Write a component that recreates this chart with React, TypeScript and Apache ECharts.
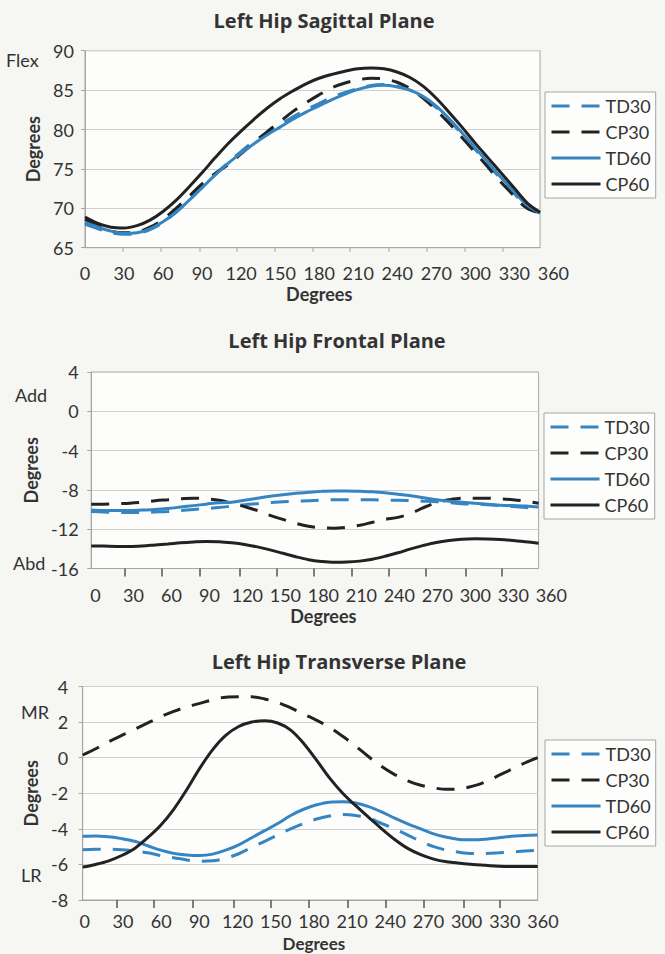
import React, { useEffect, useRef } from "react";
import * as echarts from "echarts";

const ANGLES = [0, 10, 20, 30, 40, 50, 60, 70, 80, 90, 100, 110, 120, 130, 140, 150, 160, 170, 180, 190, 200, 210, 220, 230, 240, 250, 260, 270, 280, 290, 300, 310, 320, 330, 340, 350];
const SERIES_NAMES = ["TD30", "CP30", "TD60", "CP60"];

// Left Hip Sagittal Plane
const SAG_TD30 = [68.0, 67.4, 66.9, 66.7, 66.8, 67.3, 68.2, 69.5, 71.0, 72.7, 74.3, 75.8, 77.2, 78.5, 79.6, 80.6, 81.6, 82.5, 83.3, 84.1, 84.7, 85.2, 85.6, 85.7, 85.5, 85.0, 84.1, 82.8, 81.2, 79.4, 77.5, 75.6, 73.7, 71.9, 70.2, 69.4];
const SAG_CP30 = [68.6, 67.8, 67.1, 66.9, 67.0, 67.6, 68.6, 70.0, 71.5, 73.1, 74.4, 75.5, 76.9, 78.3, 79.7, 81.0, 82.3, 83.4, 84.4, 85.3, 85.9, 86.3, 86.5, 86.4, 86.0, 85.2, 84.0, 82.5, 80.8, 79.0, 77.1, 75.2, 73.3, 71.6, 70.0, 69.4];
const SAG_TD60 = [68.2, 67.6, 67.1, 66.8, 66.9, 67.4, 68.3, 69.5, 71.0, 72.6, 74.2, 75.7, 77.0, 78.2, 79.3, 80.3, 81.3, 82.2, 83.0, 83.8, 84.5, 85.1, 85.5, 85.6, 85.4, 85.0, 84.2, 83.0, 81.4, 79.6, 77.7, 75.8, 73.9, 72.1, 70.4, 69.4];
const SAG_CP60 = [68.9, 68.1, 67.6, 67.5, 67.8, 68.5, 69.6, 71.0, 72.7, 74.5, 76.4, 78.2, 79.8, 81.3, 82.7, 83.9, 84.9, 85.8, 86.5, 87.0, 87.4, 87.7, 87.8, 87.7, 87.3, 86.6, 85.5, 84.0, 82.2, 80.3, 78.3, 76.4, 74.5, 72.6, 70.7, 69.5];

// Left Hip Frontal Plane
const FRO_TD30 = [-10.2, -10.25, -10.3, -10.3, -10.3, -10.25, -10.2, -10.1, -10.0, -9.9, -9.8, -9.65, -9.5, -9.4, -9.3, -9.2, -9.15, -9.1, -9.05, -9.0, -9.0, -9.0, -9.0, -9.05, -9.05, -9.1, -9.15, -9.2, -9.3, -9.4, -9.45, -9.5, -9.6, -9.7, -9.8, -9.9];
const FRO_CP30 = [-9.45, -9.45, -9.4, -9.35, -9.25, -9.1, -9.0, -8.9, -8.85, -8.9, -9.05, -9.35, -9.7, -10.1, -10.6, -11.0, -11.4, -11.7, -11.85, -11.9, -11.8, -11.6, -11.3, -11.0, -10.8, -10.4, -9.8, -9.3, -9.0, -8.85, -8.85, -8.85, -8.9, -9.0, -9.15, -9.35];
const FRO_TD60 = [-10.05, -10.1, -10.1, -10.1, -10.05, -10.0, -9.9, -9.75, -9.6, -9.45, -9.3, -9.25, -9.05, -8.85, -8.65, -8.5, -8.35, -8.25, -8.15, -8.1, -8.1, -8.15, -8.2, -8.3, -8.45, -8.6, -8.8, -9.0, -9.15, -9.25, -9.35, -9.45, -9.55, -9.6, -9.65, -9.75];
const FRO_CP60 = [-13.7, -13.72, -13.75, -13.75, -13.7, -13.6, -13.5, -13.38, -13.3, -13.25, -13.27, -13.38, -13.55, -13.8, -14.1, -14.45, -14.8, -15.1, -15.28, -15.37, -15.35, -15.25, -15.05, -14.75, -14.4, -14.0, -13.65, -13.35, -13.15, -13.02, -12.98, -13.0, -13.05, -13.15, -13.28, -13.42];

// Left Hip Transverse Plane
const TRA_TD30 = [-5.18, -5.15, -5.15, -5.18, -5.25, -5.35, -5.5, -5.62, -5.75, -5.82, -5.8, -5.65, -5.4, -5.05, -4.7, -4.35, -4.0, -3.7, -3.45, -3.28, -3.2, -3.25, -3.4, -3.7, -4.0, -4.35, -4.7, -5.0, -5.2, -5.32, -5.38, -5.38, -5.35, -5.3, -5.25, -5.2];
const TRA_CP30 = [0.15, 0.5, 0.9, 1.25, 1.6, 1.95, 2.3, 2.6, 2.85, 3.05, 3.25, 3.4, 3.42, 3.42, 3.3, 3.1, 2.8, 2.45, 2.1, 1.7, 1.2, 0.65, 0.05, -0.5, -0.95, -1.3, -1.55, -1.7, -1.78, -1.75, -1.6, -1.35, -1.0, -0.65, -0.3, 0.0];
const TRA_TD60 = [-4.42, -4.4, -4.45, -4.55, -4.7, -4.95, -5.2, -5.38, -5.47, -5.5, -5.42, -5.2, -4.9, -4.5, -4.1, -3.7, -3.25, -2.9, -2.65, -2.5, -2.48, -2.55, -2.75, -3.05, -3.4, -3.72, -4.0, -4.28, -4.47, -4.6, -4.62, -4.58, -4.5, -4.42, -4.38, -4.34];
const TRA_CP60 = [-6.15, -6.0, -5.8, -5.5, -5.1, -4.5, -3.8, -2.9, -1.8, -0.6, 0.45, 1.25, 1.75, 2.0, 2.08, 1.95, 1.55, 0.8, -0.15, -1.15, -2.0, -2.7, -3.35, -4.0, -4.6, -5.1, -5.45, -5.7, -5.85, -5.93, -6.0, -6.05, -6.1, -6.12, -6.12, -6.12];

const TITLES = ["Left Hip Sagittal Plane", "Left Hip Frontal Plane", "Left Hip Transverse Plane"];
const X_LABEL_MAX = 360;
const X_LABEL_STEP = 30;
const X_DATA_MAX = 350;
const TICKS_P1 = [29, 58, 88, 117, 146, 175, 204, 234, 263, 292, 321];
const TICKS_P23 = [26, 55, 85, 116, 145, 174, 204, 233, 262, 293, 321];
const Y_RANGES = [
  { min: 65, max: 90, interval: 5 },
  { min: -16, max: 4, interval: 4 },
  { min: -8, max: 4, interval: 2 },
];
const ANNOTATIONS = [
  ["Flex"],
  ["Add", "Abd"],
  ["MR", "LR"],
];

const FONT = 'Lato, "Open Sans", "Noto Sans", sans-serif';
const TITLE_FONT = '"Open Sans", Lato, sans-serif';
const BLUE = "#3585c2";
const BLACK = "#222222";
const DASH = [18, 12];

export default function App() {
  const ref = useRef<HTMLDivElement>(null);

  useEffect(() => {
    if (!ref.current) return;
    const chart = echarts.init(ref.current, null, { renderer: "svg" });

    const layout = [
      { left: 85, top: 50.7, width: 455, height: 197, labLeft: 85, labWidth: 468.4, yMargin: 11, xMargin: 16, xNameGap: 37, xNameSize: 18, yNameGap: 39, ticks: TICKS_P1, tickLen: 4, tickColor: "#bbbbbb", titleX: 324, titleY: 10, legendTop: 92, legendLeft: 545 },
      { left: 91.2, top: 372, width: 447.4, height: 196.5, labLeft: 95.4, labWidth: 455.9, yMargin: 12.5, xMargin: 17, xNameGap: 38, xNameSize: 18, yNameGap: 41, ticks: TICKS_P23, tickLen: 8, tickColor: "#555555", titleX: 337, titleY: 330, legendTop: 413, legendLeft: 544 },
      { left: 82.7, top: 686.5, width: 455, height: 213.5, labLeft: 84.8, labWidth: 458.2, yMargin: 14.5, xMargin: 12, xNameGap: 35, xNameSize: 17, yNameGap: 37, ticks: TICKS_P23, tickLen: 8, tickColor: "#555555", titleX: 339, titleY: 651, legendTop: 740, legendLeft: 545 },
    ];
    const annPos = [
      [{ x: 6, y: 60 }],
      [{ x: 15, y: 395 }, { x: 13, y: 563 }],
      [{ x: 21, y: 712 }, { x: 21, y: 875 }],
    ];
    const dataSets = [
      [SAG_TD30, SAG_CP30, SAG_TD60, SAG_CP60],
      [FRO_TD30, FRO_CP30, FRO_TD60, FRO_CP60],
      [TRA_TD30, TRA_CP30, TRA_TD60, TRA_CP60],
    ];
    const styles = [
      { color: BLUE, dashed: true },
      { color: BLACK, dashed: true },
      { color: BLUE, dashed: false },
      { color: BLACK, dashed: false },
    ];

    const grid: any[] = [];
    const xAxis: any[] = [];
    const yAxis: any[] = [];
    const series: any[] = [];
    const legend: any[] = [];
    const title: any[] = [];
    const graphic: any[] = [];

    layout.forEach((L, p) => {
      grid.push({
        left: L.left, top: L.top, width: L.width, height: L.height,
        show: true, borderColor: "#a6a6a6", borderWidth: 1, backgroundColor: "#fdfdfc",
        containLabel: false, outerBoundsMode: "none",
      });
      grid.push({
        left: L.labLeft, top: L.top, width: L.labWidth, height: L.height,
        show: false, containLabel: false, outerBoundsMode: "none",
      });
      xAxis.push({
        gridIndex: 2 * p, type: "value", min: 0, max: X_DATA_MAX,
        axisLine: { show: true, onZero: false, lineStyle: { color: "#a6a6a6", width: 1 } },
        axisTick: { show: true, customValues: L.ticks, length: L.tickLen, lineStyle: { color: L.tickColor, width: 1.5 } },
        axisLabel: { show: false },
        splitLine: { show: false },
      });
      xAxis.push({
        gridIndex: 2 * p + 1, type: "value", min: 0, max: X_LABEL_MAX, interval: X_LABEL_STEP,
        axisLine: { show: false, onZero: false }, axisTick: { show: false }, splitLine: { show: false },
        axisLabel: { show: true, fontSize: 18, lineHeight: 18, fontFamily: FONT, color: "#333", margin: L.xMargin, showMinLabel: true, showMaxLabel: true },
        name: "Degrees", nameLocation: "middle", nameGap: L.xNameGap,
        nameTextStyle: { fontSize: L.xNameSize, lineHeight: L.xNameSize, fontWeight: "bold", fontFamily: FONT, color: "#333" },
      });
      const yr = Y_RANGES[p];
      yAxis.push({
        gridIndex: 2 * p, type: "value", min: yr.min, max: yr.max, interval: yr.interval,
        axisLine: { show: true, onZero: false, lineStyle: { color: "#a6a6a6" } },
        axisTick: { show: true, length: 4, lineStyle: { color: "#a6a6a6" } },
        axisLabel: { fontSize: 18, fontFamily: FONT, color: "#333", margin: L.yMargin },
        splitLine: { show: true, lineStyle: { color: "#cfcfcf", width: 1 } },
        name: "Degrees", nameLocation: "middle", nameGap: L.yNameGap, nameRotate: 90,
        nameTextStyle: { fontSize: 18, fontWeight: "bold", fontFamily: FONT, color: "#333" },
      });
      yAxis.push({ gridIndex: 2 * p + 1, type: "value", min: 0, max: 1, show: false });

      dataSets[p].forEach((vals, k) => {
        const st = styles[k];
        series.push({
          type: "line", name: SERIES_NAMES[k],
          xAxisIndex: 2 * p, yAxisIndex: 2 * p,
          data: ANGLES.map((a, i) => [a, vals[i]]),
          showSymbol: false, symbol: "none", smooth: 0.35,
          lineStyle: { width: 3, color: st.color, type: st.dashed ? DASH : "solid" },
          itemStyle: { color: st.color },
          z: 3 + k,
        });
      });

      legend.push({
        orient: "vertical", left: L.legendLeft, top: L.legendTop,
        data: SERIES_NAMES, selectedMode: false,
        itemWidth: 49, itemHeight: 14, itemGap: 8, padding: [5, 5, 5, 5],
        borderColor: "#a6a6a6", borderWidth: 1, backgroundColor: "#fdfdfc", borderRadius: 0,
        itemStyle: { color: "transparent", borderWidth: 0, opacity: 0 },
        lineStyle: { width: 3 },
        textStyle: { fontSize: 18, fontFamily: FONT, color: "#333", lineHeight: 18 },
      });

      title.push({
        text: TITLES[p], left: L.titleX, top: L.titleY, textAlign: "center", padding: 0,
        textStyle: { fontSize: 20, fontWeight: "bold", fontFamily: TITLE_FONT, color: "#333" },
      });

      ANNOTATIONS[p].forEach((txt, j) => {
        const pos = annPos[p][j];
        graphic.push({
          type: "text", x: pos.x, y: pos.y,
          style: { text: txt, fontSize: 18, fontFamily: FONT, fill: "#333", textAlign: "left", textVerticalAlign: "middle" },
        });
      });
    });

    chart.setOption({
      animation: false,
      backgroundColor: "#f6f6f3",
      title, grid, xAxis, yAxis, series, legend, graphic,
    });

    return () => chart.dispose();
  }, []);

  return <div ref={ref} style={{ position: "absolute", left: 0, top: 0, width: 665, height: 954 }} />;
}
